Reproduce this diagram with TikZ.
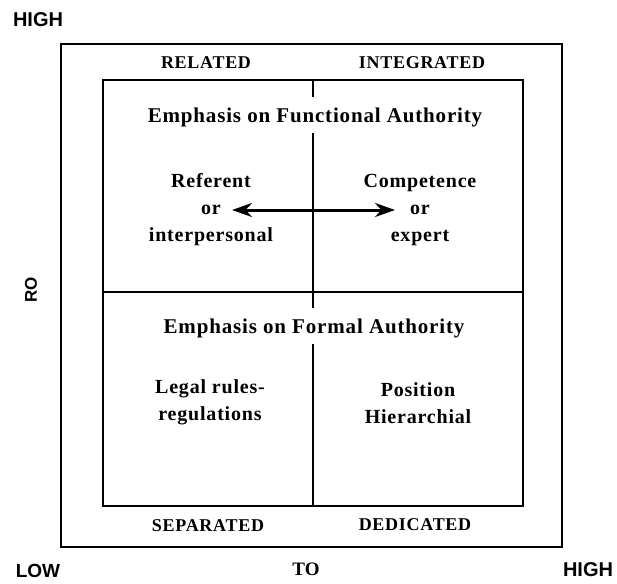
\documentclass[tikz,border=0pt]{standalone}
\usepackage{fontspec}
\setmainfont{Liberation Serif}[LetterSpace=4]
\setsansfont{Liberation Sans}
\usetikzlibrary{arrows.meta,positioning}

\begin{document}
\begin{tikzpicture}[x=1pt,y=-1pt,line width=1.8pt,
  axis/.style={inner sep=0pt,font=\sffamily\bfseries\fontsize{20}{20}\selectfont},
  zone/.style={inner sep=0pt,font=\bfseries\fontsize{18}{18}\selectfont},
  head/.style={inner sep=0pt,font=\bfseries\fontsize{21}{21}\selectfont},
  txt/.style={inner sep=0pt,align=center,font=\bfseries\fontsize{20}{27}\selectfont}]
  \useasboundingbox (0,0) rectangle (617,583);
  %cadres
  \draw (61,44) rectangle (562,547);
  \draw (103,80) rectangle (523,506);
  \draw (103,292) -- (523,292);
  \draw (313,80) -- (313,97) (313,133) -- (313,308) (313,344) -- (313,506);
  %axes
  \node[axis] (high) at (38,20) {HIGH};
  \node[axis,font=\sffamily\bfseries\fontsize{19}{19}\selectfont] (low) at (38,571) {LOW};
  \node[axis] (high2) at (588,570) {HIGH};
  \node[inner sep=0pt,font=\bfseries\fontsize{19}{19}\selectfont\addfontfeature{LetterSpace=0}] (to) at (306,569) {TO};
  \node[axis,rotate=90,font=\sffamily\bfseries\fontsize{17}{17}\selectfont] (ro) at (31,290) {RO};
  %quadrants
  \node[zone] (rel) at (206,63) {RELATED};
  \node[zone] (int) at (422,63) {INTEGRATED};
  \node[zone] (sep) at (208,526) {SEPARATED};
  \node[zone] (ded) at (415,525) {DEDICATED};
  \node[head] (fun) at (315,117) {Emphasis on Functional Authority};
  \node[head] (form) at (314,328) {Emphasis on Formal Authority};
  \node[txt] (ref) at (211,210) {Referent\\or\\interpersonal};
  \node[txt] (comp) at (420,210) {Competence\\or\\expert};
  \node[txt] (leg) at (210,402) {Legal rules-\\regulations};
  \node[txt] (pos) at (418,403) {Position\\Hierarchial};
  %fleche
  \coordinate (a) at (232,210);
  \coordinate (b) at (395,210);
  \draw[line width=3pt,{Stealth[length=20pt,width=14pt]}-{Stealth[length=20pt,width=14pt]}] (a) -- (b);
\end{tikzpicture}
\end{document}
